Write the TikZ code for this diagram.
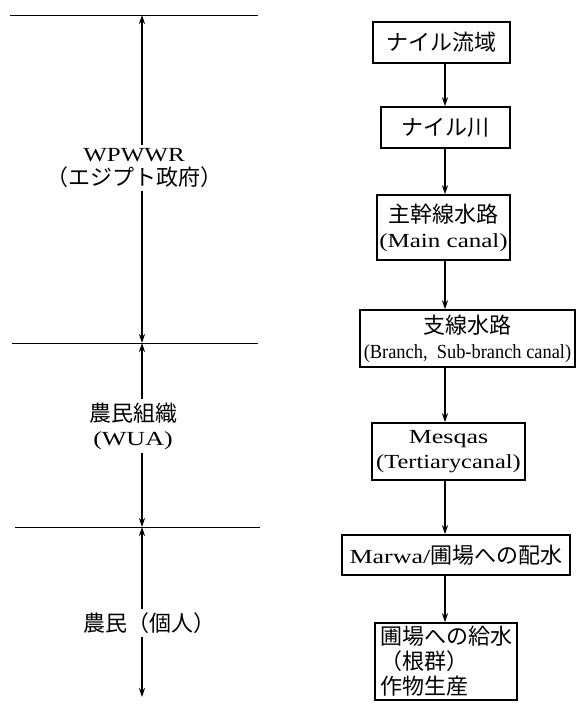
\documentclass[tikz,border=0pt]{standalone}
\usepackage{fontspec}
\usepackage{graphicx}
\setmainfont{Liberation Serif}
\newfontfamily\jpfont{Noto Sans CJK JP}
\newcommand\jtext[1]{{\jpfont\fontsize{22}{26}\selectfont #1}}
\newcommand\lat[2][1.25]{\scalebox{#1}[1]{\fontsize{20}{26}\selectfont #2}}
\usetikzlibrary{arrows.meta}
\begin{document}
\begin{tikzpicture}[x=1pt,y=-1pt,
  box/.style={draw, line width=1.5pt, inner sep=1pt, align=center, font=\fontsize{20}{25}\selectfont},
  arr/.style={line width=1.8pt, -{Stealth[length=9pt,width=6pt]}},
  lvl/.style={line width=1pt},
  lab/.style={inner sep=3pt, align=center, font=\fontsize{20}{24}\selectfont}]
\useasboundingbox (0,0) rectangle (577,704);
% level lines
\coordinate (t1l) at (10,15);  \coordinate (t1r) at (258,15);  \coordinate (a1) at (142,15);
\coordinate (t2l) at (12,343); \coordinate (t2r) at (258,343); \coordinate (a2) at (142,343);
\coordinate (t3l) at (15,527); \coordinate (t3r) at (260,527); \coordinate (a3) at (142,527);
\coordinate (a4) at (142,697);
\draw[lvl] (t1l) -- (t1r);
\draw[lvl] (t2l) -- (t2r);
\draw[lvl] (t3l) -- (t3r);
% left labels
\node[lab] (L1) at (134,168) {\lat{WPWWR}\\\jtext{（エジプト政府）}};
\node[lab] (L2) at (133,426) {\jtext{農民組織}\\\lat[1.3]{(WUA)}};
\node[lab] (L3) at (149,623) {\jtext{農民（個人）}};
\draw[arr] (L1.north -| a1) -- (a1);
\draw[arr] (L1.south -| a1) -- (a2);
\draw[arr] (L2.north -| a2) -- (a2);
\draw[arr] (L2.south -| a2) -- (a3);
\draw[arr] (L3.north -| a3) -- (a3);
\draw[arr] (L3.south -| a3) -- (a4);
% right flow
\node[box, minimum width=137pt, minimum height=41pt] (b1) at (441.5,42.5) {\jtext{ナイル流域}};
\node[box, minimum width=129pt, minimum height=41pt] (b2) at (445.5,127.5) {\jtext{ナイル川}};
\node[box, minimum width=133pt, minimum height=65pt] (b3) at (443.5,227.5) {\jtext{主幹線水路}\\\lat{(Main canal)}};
\node[box, minimum width=215pt, minimum height=57pt] (b4) at (467.5,338.5) {\jtext{支線水路}\\\lat[0.92]{(Branch,\ \ Sub-branch canal)}};
\node[box, minimum width=153pt, minimum height=57pt] (b5) at (448.5,451.5) {\lat[1.3]{Mesqas}\\\lat[1.22]{(Tertiarycanal)}};
\node[box, minimum width=228pt, minimum height=40pt] (b6) at (456,555) {\lat[1.3]{Marwa/}\jtext{圃場への配水}};
\node[box, minimum width=142pt, minimum height=77pt, align=left] (b7) at (446,661.5) {\jtext{圃場への給水}\\\jtext{（根群）}\\\jtext{作物生産}};
\coordinate (ax) at (445,0);
\draw[arr] (b1.south -| ax) -- (b2.north -| ax);
\draw[arr] (b2.south -| ax) -- (b3.north -| ax);
\draw[arr] (b3.south -| ax) -- (b4.north -| ax);
\draw[arr] (b4.south -| ax) -- (b5.north -| ax);
\draw[arr] (b5.south -| ax) -- (b6.north -| ax);
\draw[arr] (b6.south -| ax) -- (b7.north -| ax);
\end{tikzpicture}
\end{document}
